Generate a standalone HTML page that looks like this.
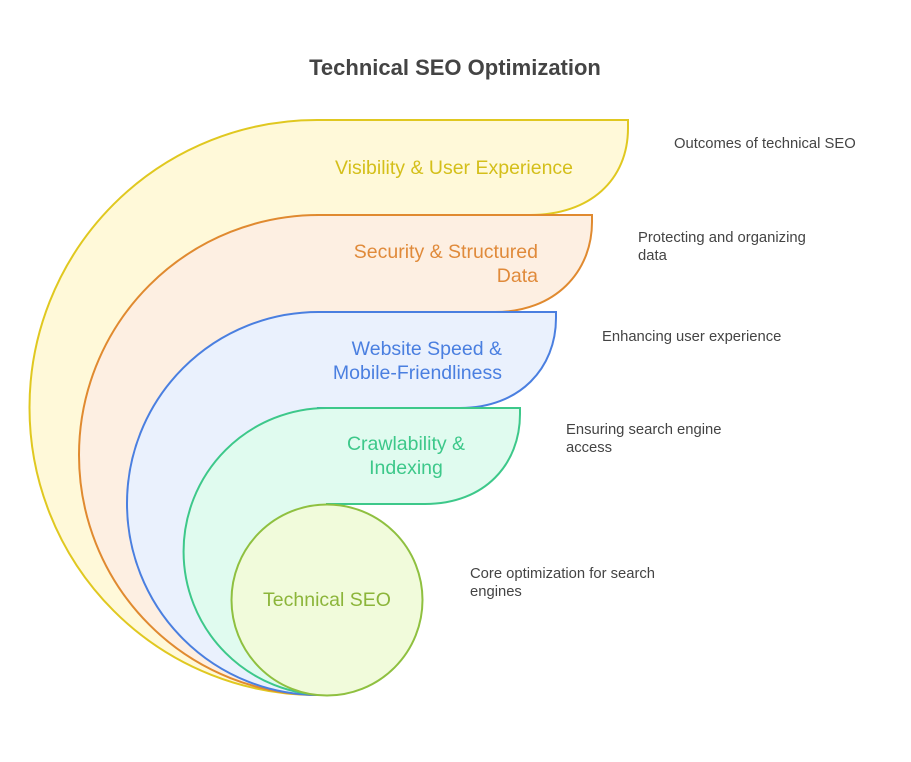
<!DOCTYPE html>
<html><head><style>
body{margin:0;background:#fff;}
svg text{font-family:"Liberation Sans",sans-serif;}
</style></head><body>
<svg width="911" height="757" viewBox="0 0 911 757" xmlns="http://www.w3.org/2000/svg">
<rect width="911" height="757" fill="#fff"/>
<text x="455" y="75" text-anchor="middle" font-size="22" font-weight="bold" fill="#444">Technical SEO Optimization</text>

<path d="M317,695 A287.5,287.5 0 0 1 317,120 L628,120 L628,128 C628,180 590,215 530,215 L317,215 Z" fill="#fff9d9" stroke="#e0c820" stroke-width="2"/>
<path d="M319,695 A240,240 0 0 1 319,215 L592,215 L592,222 C592,272 555,312 495,312 L319,312 Z" fill="#fdefe2" stroke="#e08a30" stroke-width="2"/>
<path d="M318.5,695 A191.5,191.5 0 0 1 318.5,312 L556,312 L556,318 C556,368 520,408 460,408 L318,408 Z" fill="#eaf1fd" stroke="#4a7fe0" stroke-width="2"/>
<path d="M327,695 A143.5,143.5 0 0 1 327,408 L520,408 L520,414 C520,464 485,504 425,504 L327,504 Z" fill="#e0fbef" stroke="#3dc88a" stroke-width="2"/>
<circle cx="327" cy="600" r="95.5" fill="#f1fbdb" stroke="#8fc040" stroke-width="2"/>

<g font-size="19.5">
<text x="454" y="174" text-anchor="middle" fill="#d4bf1a">Visibility &amp; User Experience</text>
<text x="538" y="258" text-anchor="end" fill="#e08a3a">Security &amp; Structured</text>
<text x="538" y="282" text-anchor="end" fill="#e08a3a">Data</text>
<text x="502" y="355" text-anchor="end" fill="#4a7fe0">Website Speed &amp;</text>
<text x="502" y="379" text-anchor="end" fill="#4a7fe0">Mobile-Friendliness</text>
<text x="406" y="450" text-anchor="middle" fill="#3dc88a">Crawlability &amp;</text>
<text x="406" y="474" text-anchor="middle" fill="#3dc88a">Indexing</text>
<text x="327" y="606" text-anchor="middle" fill="#8cb53a">Technical SEO</text>
</g>
<g font-size="14.8" fill="#444">
<text x="674" y="148">Outcomes of technical SEO</text>
<text x="638" y="242">Protecting and organizing</text>
<text x="638" y="260">data</text>
<text x="602" y="341">Enhancing user experience</text>
<text x="566" y="434">Ensuring search engine</text>
<text x="566" y="452">access</text>
<text x="470" y="578">Core optimization for search</text>
<text x="470" y="596">engines</text>
</g>
</svg>
</body></html>
